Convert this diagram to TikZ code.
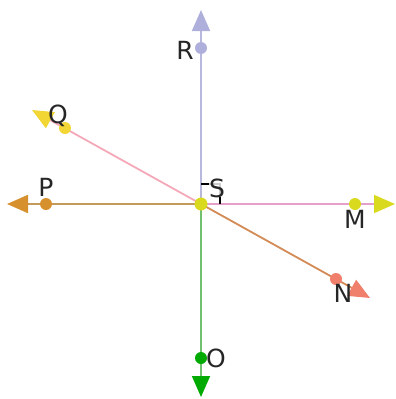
\documentclass[tikz,border=0pt]{standalone}
\usepackage{fontspec}
\setmainfont{DejaVu Sans}
\usetikzlibrary{arrows.meta}
\definecolor{cR}{HTML}{AFAFDB}
\definecolor{cRl}{HTML}{B8B8DC}
\definecolor{cM}{HTML}{D9D91E}
\definecolor{cMl}{HTML}{E4A0C8}
\definecolor{cP}{HTML}{D6912E}
\definecolor{cPl}{HTML}{C49A5A}
\definecolor{cO}{HTML}{00AA00}
\definecolor{cOl}{HTML}{70C070}
\definecolor{cQ}{HTML}{F2D635}
\definecolor{cQl}{HTML}{F4A8B8}
\definecolor{cN}{HTML}{F07F6C}
\definecolor{cNl}{HTML}{D38A55}
\begin{document}
\begin{tikzpicture}[x=1pt,y=-1pt,
  ray/.style={line width=1.8pt},
  pt/.style={circle,inner sep=0pt,minimum size=12pt},
  lab/.style={font=\fontsize{25}{25}\selectfont,text=black!85,inner sep=1pt}]
\useasboundingbox (0,0) rectangle (396,399);
\coordinate (S) at (201,204);
\coordinate (Rt) at (201,10);
\coordinate (Mt) at (395,204);
\coordinate (Pt) at (7,204);
\coordinate (Ot) at (201,397);
\coordinate (Qt) at (32,110);
\coordinate (Nt) at (370,298);
\draw[ray,cRl,-{Triangle[length=21pt,width=18pt,color=cR]}] (S) -- (Rt);
\draw[ray,cMl,-{Triangle[length=21pt,width=18pt,color=cM]}] (S) -- (Mt);
\draw[ray,cPl,-{Triangle[length=21pt,width=18pt,color=cP]}] (S) -- (Pt);
\draw[ray,cOl,-{Triangle[length=21pt,width=18pt,color=cO]}] (S) -- (Ot);
\draw[ray,cQl,-{Triangle[length=21pt,width=18pt,color=cQ]}] (S) -- (Qt);
\draw[ray,cNl,-{Triangle[length=21pt,width=18pt,color=cN]}] (S) -- (Nt);
\coordinate (ra1) at (201,184);
\coordinate (ra2) at (220,184);
\coordinate (ra3) at (220,204);
\draw[line width=1.4pt,black] (ra1) -- (ra2) -- (ra3);
\node[pt,fill=cR] (R) at (201,48) {};
\node[pt,fill=cM] (M) at (355,204) {};
\node[pt,fill=cP] (P) at (46,204) {};
\node[pt,fill=cO] (O) at (201,358) {};
\node[pt,fill=cQ] (Q) at (65,128) {};
\node[pt,fill=cN] (N) at (336,279) {};
\node[pt,fill=cM,minimum size=13pt] (Sp) at (S) {};
\node[lab] (lR) at (185,50) {R};
\node[lab] (lQ) at (58,116) {Q};
\node[lab] (lP) at (46,187) {P};
\node[lab,fill=white,fill opacity=0.8,text opacity=1,inner sep=0pt] (lS) at (217,188) {S};
\node[lab] (lM) at (355,219) {M};
\node[lab] (lN) at (343,293) {N};
\node[lab] (lO) at (216,358) {O};
\end{tikzpicture}
\end{document}
